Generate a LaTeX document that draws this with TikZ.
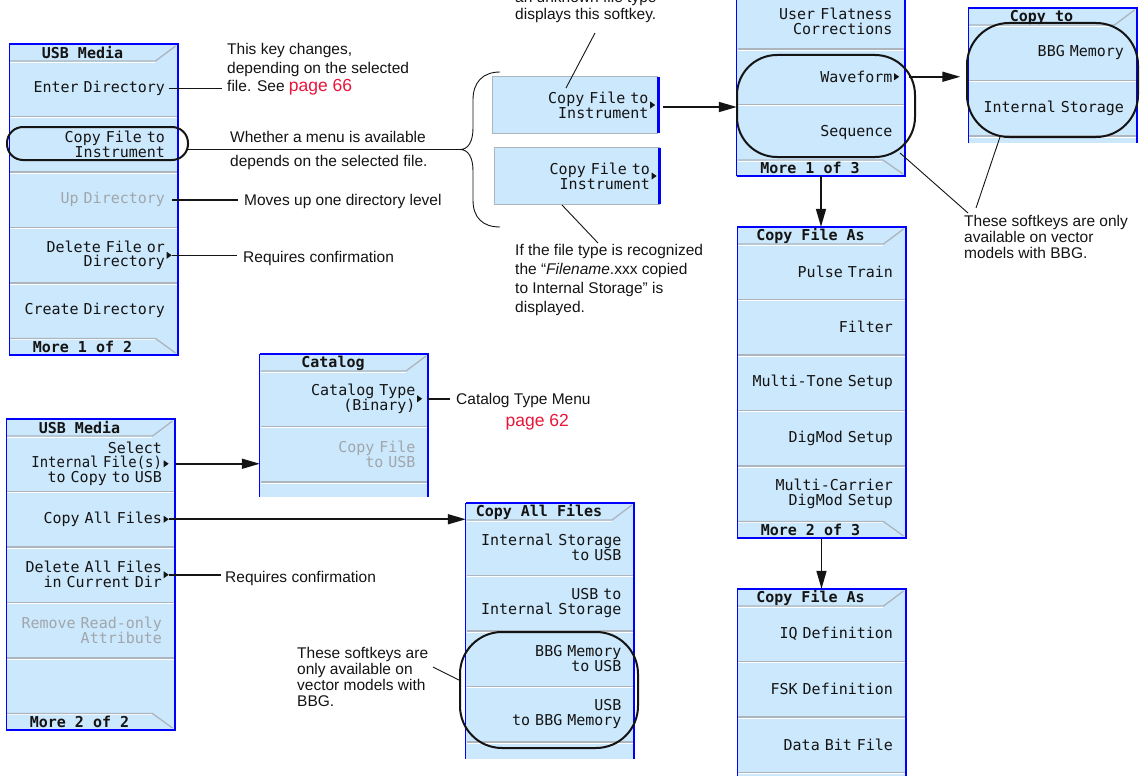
\documentclass[tikz,border=0pt]{standalone}
\usepackage{fontspec}
\setmainfont{Liberation Sans}
\newfontfamily\keyfont{DejaVu Sans Mono}
\usetikzlibrary{arrows.meta,calc}
\definecolor{keyblue}{RGB}{204,232,252}
\definecolor{sepgray}{RGB}{172,180,190}
\definecolor{menublue}{RGB}{0,0,255}
\definecolor{dimtext}{RGB}{160,166,172}
\definecolor{pagered}{RGB}{232,22,58}
\definecolor{ink}{RGB}{20,20,20}
\newcommand{\sepl}[3]{\draw[sepgray,line width=1.3pt] (#1,#3) -- (#2,#3); \draw[white,line width=1pt] (#1,#3+1.3) -- (#2,#3+1.3);}
\newcommand{\hdrtab}[3]{\draw[white,line width=1pt] (#1,#3+18.3) -- (#2-22.5,#3+18.3); \draw[sepgray,line width=1.3pt] (#1,#3+17) -- (#2-22,#3+17) -- (#2-2,#3+2);}
\newcommand{\ftrtab}[4]{\draw[white,line width=1pt] (#1,#3+1.3) -- (#2-23,#3+1.3); \draw[sepgray,line width=1.3pt] (#1,#3) -- (#2-22,#3) -- (#2-2,#4-2);}
\newcommand{\tri}[1]{\fill[ink] ([xshift=-8pt]#1.east) -- ++(0,-3.5) -- ++(5,3.5) -- ++(-5,3.5) -- cycle;}
\tikzset{
  menu/.style={rectangle, fill=keyblue, inner sep=0, minimum width=168pt},
  keyx/.style={rectangle, inner sep=0, minimum width=165pt, minimum height=55.5pt, text width=146pt, align=right, font=\keyfont\fontsize{15}{14.8}\selectfont, text=ink},
  dim/.style={text=dimtext},
  hdr/.style={inner sep=0, font=\keyfont\bfseries\fontsize{15}{14.8}\selectfont, text=ink},
  ann/.style={inner sep=0, anchor=base west, align=left, font=\fontsize{15.5}{18.5}\selectfont, text=ink},
  conn/.style={line width=1.5pt, ink},
  lead/.style={line width=0.9pt, ink},
  arr/.style={line width=1.6pt, ink, -{Triangle[length=18pt,width=10pt]}},
  oval/.style={draw=ink, line width=2pt, rectangle, inner sep=0},
  bord/.style={menublue, line width=2.4pt},
  bordthin/.style={menublue, line width=1.2pt}
}
\begin{document}
\begin{tikzpicture}[x=1pt,y=-1pt]
\useasboundingbox (0,0) rectangle (1144,776);
\clip (0,0) rectangle (1144,776);
\fill[white] (0,0) rectangle (1144,776);

% ---------- menu frames ----------
\node[menu, minimum height=311pt] (m1) at (93.5,199.5) {};
\node[menu, minimum height=311pt] (m2) at (90.5,574.5) {};
\node[menu, minimum height=143pt] (cat) at (344,425.5) {};
\node[menu, minimum height=256pt] (caf) at (550,631) {};
\node[menu, minimum height=186pt] (mtop) at (821,83) {};
\node[menu, minimum height=135pt] (ct) at (1052.5,75.5) {};
\node[menu, minimum height=311pt] (cfa1) at (821.5,382.5) {};
\node[menu, minimum height=192pt] (cfa2) at (821.5,685) {};

% ---------- separators and tabs ----------
\hdrtab{10}{177.5}{44}
\sepl{10}{177.5}{116.5}\sepl{10}{177.5}{172}\sepl{10}{177.5}{227.5}\sepl{10}{177.5}{283}
\ftrtab{10}{177.5}{338.5}{355}

\hdrtab{7}{174.5}{419}
\sepl{7}{174.5}{491.5}\sepl{7}{174.5}{547}\sepl{7}{174.5}{602.5}\sepl{7}{174.5}{658}
\ftrtab{7}{174.5}{713.5}{730}

\hdrtab{260.5}{428}{354}
\sepl{260.5}{428}{426.5}\sepl{260.5}{428}{482}

\hdrtab{466.5}{634}{503}
\sepl{466.5}{634}{575.5}\sepl{466.5}{634}{631}\sepl{466.5}{634}{686.5}\sepl{466.5}{634}{742}

\sepl{737.5}{905}{49}\sepl{737.5}{905}{104.5}
\ftrtab{737.5}{905}{160}{176}

\hdrtab{969}{1136.5}{8}
\sepl{969}{1136.5}{80.5}\sepl{969}{1136.5}{136}

\hdrtab{738}{905.5}{227}
\sepl{738}{905.5}{299.5}\sepl{738}{905.5}{355}\sepl{738}{905.5}{410.5}\sepl{738}{905.5}{466}
\ftrtab{738}{905.5}{521.5}{538}

\hdrtab{738}{905.5}{589}
\sepl{738}{905.5}{661.5}\sepl{738}{905.5}{717}\sepl{738}{905.5}{772.5}

% ---------- headers / footers ----------
\node[hdr] (m1h) at (82.5,53) {USB Media};
\node[hdr] (m1f) at (82.5,347) {More 1 of 2};
\node[hdr] (m2h) at (79.5,428) {USB Media};
\node[hdr] (m2f) at (79.5,722) {More 2 of 2};
\node[hdr] (cath) at (333,363) {Catalog};
\node[hdr] (cafh) at (539,512) {Copy All Files};
\node[hdr] (mtf) at (810,168) {More 1 of 3};
\node[hdr] (cth) at (1041.5,17) {Copy to};
\node[hdr] (cfa1h) at (810.5,236) {Copy File As};
\node[hdr] (cfa1f) at (810.5,530) {More 2 of 3};
\node[hdr] (cfa2h) at (810.5,598) {Copy File As};

% ---------- keys ----------
\node[keyx] (m1k1) at (92,88.75) {Enter Directory};
\node[keyx] (m1k2) at (92,144.25) {Copy File to\\Instrument};
\node[keyx, dim] (m1k3) at (92,199.75) {Up Directory};
\node[keyx] (m1k4) at (92,255.25) {Delete File or\\Directory};
\node[keyx] (m1k5) at (92,310.75) {Create Directory};
\tri{m1k4}

\node[keyx] (m2k1) at (89,463.75) {Select\\\scalebox{0.93}[1]{Internal File(s)}\\to Copy to USB};
\node[keyx] (m2k2) at (89,519.25) {Copy All Files};
\node[keyx] (m2k3) at (89,574.75) {Delete All Files\\in Current Dir};
\node[keyx, dim] (m2k4) at (89,630.25) {Remove Read-only\\Attribute};
\node[keyx] (m2k5) at (89,685.75) {};
\tri{m2k1}\tri{m2k2}\tri{m2k3}

\node[keyx] (catk1) at (342.5,398.75) {Catalog Type\\(Binary)};
\node[keyx, dim] (catk2) at (342.5,454.25) {Copy File\\to USB};
\tri{catk1}

\node[keyx] (cafk1) at (548.5,547.75) {Internal Storage\\to USB};
\node[keyx] (cafk2) at (548.5,603.25) {USB to\\Internal Storage};
\node[keyx] (cafk3) at (548.5,658.75) {BBG Memory\\to USB};
\node[keyx] (cafk4) at (548.5,714.25) {USB\\to BBG Memory};

\node[keyx] (mtk1) at (819.5,21.25) {User Flatness\\Corrections};
\node[keyx] (mtk2) at (819.5,76.75) {Waveform};
\node[keyx] (mtk3) at (819.5,132.25) {Sequence};
\tri{mtk2}

\node[keyx] (ctk1) at (1051,52.75) {BBG Memory};
\node[keyx] (ctk2) at (1051,108.25) {Internal Storage};

\node[keyx] (c1k1) at (820,271.75) {Pulse Train};
\node[keyx] (c1k2) at (820,327.25) {Filter};
\node[keyx] (c1k3) at (820,382.75) {Multi-Tone Setup};
\node[keyx] (c1k4) at (820,438.25) {DigMod Setup};
\node[keyx] (c1k5) at (820,493.75) {Multi-Carrier\\DigMod Setup};

\node[keyx] (c2k1) at (820,633.75) {IQ Definition};
\node[keyx] (c2k2) at (820,689.25) {FSK Definition};
\node[keyx] (c2k3) at (820,744.75) {Data Bit File};

% ---------- floating keys ----------
\node[keyx, fill=keyblue, minimum height=56pt] (ka) at (575.5,105) {Copy File to\\Instrument};
\node[keyx, fill=keyblue, minimum height=56pt] (kb) at (577,176) {Copy File to\\Instrument};
\foreach \k in {ka,kb}{
  \draw[sepgray, line width=1pt] (\k.north east) -- (\k.north west) -- (\k.south west) -- (\k.south east);
  \draw[menublue, line width=2.6pt] (\k.north east) -- (\k.south east);
}
\tri{ka}\tri{kb}

% ---------- menu borders ----------
\foreach \m in {m1,m2,cfa1}{
  \draw[bordthin] (\m.north west) -- (\m.south west);
  \draw[bord] (\m.north west) -- (\m.north east) -- (\m.south east) -- (\m.south west);
}
\foreach \m in {cat,caf,ct,cfa2}{
  \draw[bordthin] (\m.north west) -- (\m.south west);
  \draw[bord] (\m.north west) -- (\m.north east) -- (\m.south east);
}
\draw[bordthin] (mtop.north west) -- (mtop.south west);
\draw[bord] (mtop.north east) -- (mtop.south east) -- (mtop.south west);

% ---------- ovals ----------
\node[oval, minimum width=181pt, minimum height=33pt, rounded corners=16pt] (ov1) at (97.5,143.5) {};
\node[oval, minimum width=178pt, minimum height=102pt, rounded corners=40pt] (ov2) at (826,106) {};
\node[oval, minimum width=171pt, minimum height=114pt, rounded corners=42pt] (ov3) at (1052.5,80) {};
\node[oval, minimum width=178pt, minimum height=116pt, rounded corners=42pt] (ov4) at (549,690) {};

% ---------- annotations (base = baseline of last line) ----------
\node[ann] (a1) at (227,92) {This key changes,\\depending on the selected\\file. See {\color{pagered}\fontsize{17.5}{18.5}\selectfont page 66}};
\node[ann, font=\fontsize{15.5}{24}\selectfont] (a2) at (230,166) {Whether a menu is available\\depends on the selected file.};
\node[ann] (a3) at (244,205) {Moves up one directory level};
\node[ann] (a4) at (243,262) {Requires confirmation};
\node[ann] (a5) at (225,582) {Requires confirmation};
\node[ann, font=\fontsize{15.5}{22}\selectfont] (a6) at (456,426) {Catalog Type Menu\\\hspace*{49.5pt}{\color{pagered}\fontsize{17.5}{22}\selectfont page 62}};
\node[ann, font=\fontsize{15.5}{17.5}\selectfont] (a7) at (515,20) {an unknown file type\\displays this softkey.};
\node[ann, font=\fontsize{15.5}{19}\selectfont] (a8) at (515,312) {If the file type is recognized\\the “\textit{Filename}.xxx copied\\to Internal Storage” is\\displayed.};
\node[ann, font=\fontsize{15.5}{16}\selectfont] (a9) at (964,258) {These softkeys are only\\available on vector\\models with BBG.};
\node[ann, font=\fontsize{15.5}{16}\selectfont] (a10) at (297,706) {These softkeys are\\only available on\\vector models with\\BBG.};

% ---------- connectors ----------
\coordinate (btip) at (460,149.5);
\draw[conn] ([xshift=-6pt]m1k1.east) -- ($(m1k1.east -| a1.west)+(-5,0)$);
\draw[conn] ([xshift=-1pt,yshift=-6pt]ov1.east) -- (btip);
\draw[conn] ([xshift=-3pt]m1k3.east) -- ($(m1k3.east -| a3.west)+(-6,0)$);
\draw[conn] ([xshift=-3pt]m1k4.east) -- ($(m1k4.east -| a4.west)+(-6,0)$);
\draw[conn] ([xshift=-3pt]m2k3.east) -- ($(m2k3.east -| a5.west)+(-4,0)$);
\draw[conn] ([xshift=3pt]catk1.east) -- ($(catk1.east -| a6.west)+(-6,0)$);

\draw[lead] (500,72) .. controls (483,72) and (473,82) .. (473,100) -- (473,128)
  .. controls (473,142) and (468,149.5) .. (btip)
  .. controls (468,149.5) and (473,157) .. (473,171) -- (473,200)
  .. controls (473,218) and (483,227) .. (500,227);

\draw[arr] ([xshift=4pt]m2k1.east) -- (m2k1.east -| cat.west);
\draw[arr] ([xshift=-3pt]m2k2.east) -- (m2k2.east -| caf.west);
\draw[arr] ([xshift=5pt,yshift=-2pt]ka.east) -- ($(ka.east -| mtop.west)+(0,2)$);
\draw[arr] ([xshift=7pt]mtk2.east) -- ($(mtk2.east -| ct.west)+(-8,0)$);
\draw[arr] (mtop.south) -- (mtop.south |- cfa1.north);
\draw[arr] (cfa1.south) -- (cfa1.south |- cfa2.north);

\coordinate (p1) at (566,88);  \coordinate (p2) at (595,33);
\coordinate (p3) at (562,205); \coordinate (p4) at (598,243);
\coordinate (p5) at (900,153); \coordinate (p6) at (968,213);
\coordinate (p7) at (1000,137); \coordinate (p8) at (976,208);
\coordinate (p9) at (459,680); \coordinate (p10) at (433,667);
\draw[lead] (p1) -- (p2);
\draw[lead] (p3) -- (p4);
\draw[lead] (p5) -- (p6);
\draw[lead] (p7) -- (p8);
\draw[lead] (p9) -- (p10);
\end{tikzpicture}
\end{document}
